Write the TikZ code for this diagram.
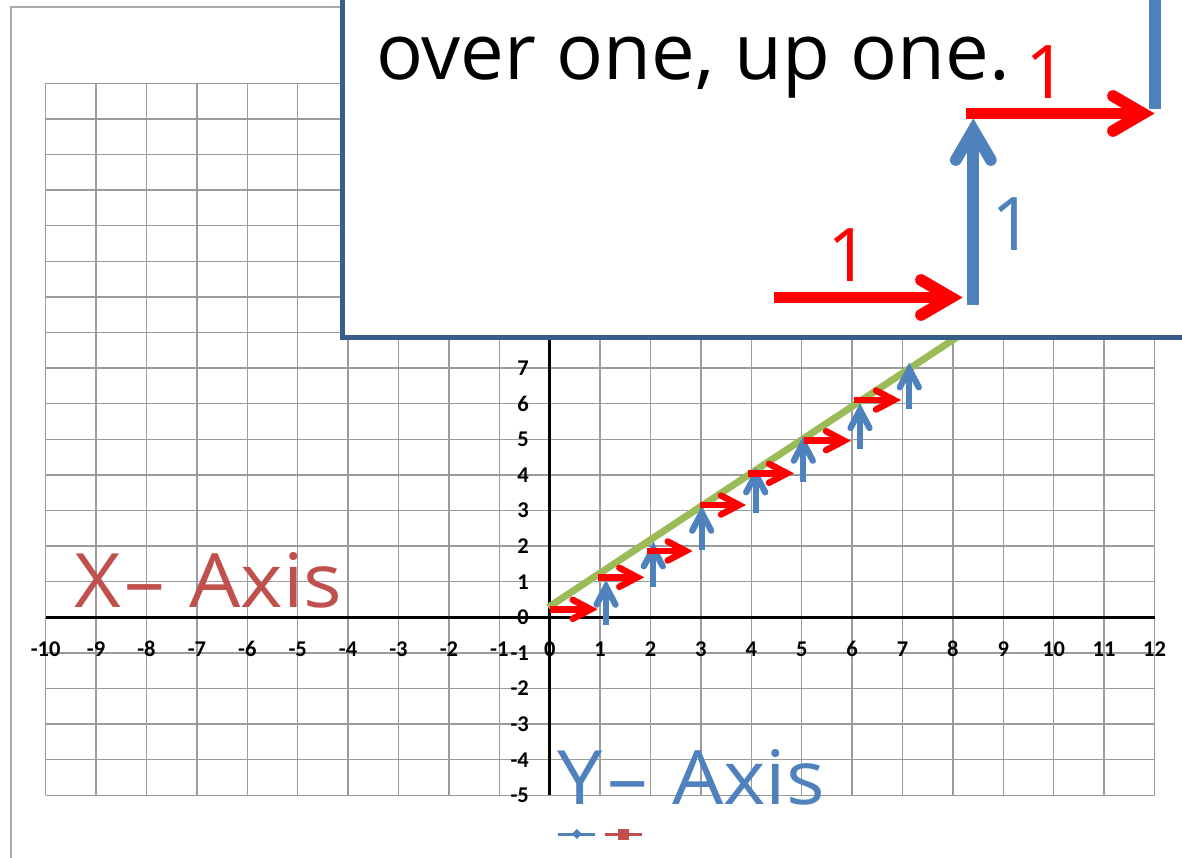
\documentclass[tikz,border=0pt]{standalone}
\usepackage{fontspec}
\setmainfont{Open Sans}
\newfontfamily\axisfont[FakeStretch=1.08]{Open Sans}
\newfontfamily\tickfont{Carlito}
\definecolor{gridc}{RGB}{155,155,155}
\definecolor{bordc}{RGB}{170,170,170}
\definecolor{boxc}{RGB}{56,93,138}
\definecolor{blueA}{RGB}{79,129,189}
\definecolor{redA}{RGB}{255,0,0}
\definecolor{greenA}{RGB}{155,187,89}
\definecolor{xred}{RGB}{192,80,77}
\tikzset{
  gridline/.style={gridc, line width=1.4},
  axisline/.style={black, line width=2.6},
  ticklbl/.style={font=\tickfont\bfseries\fontsize{22.5}{22.5}\selectfont, inner sep=0},
  smallred/.style={redA, line width=6.5},
  smallblue/.style={blueA, line width=6.3},
  bigred/.style={redA, line width=11.7},
  bigblue/.style={blueA, line width=11.7},
  headcap/.style={line cap=round},
  bigtxt/.style={inner sep=0, font=\axisfont\fontsize{75}{75}\selectfont},
  onelbl/.style={inner sep=0, anchor=base, font=\fontsize{74}{74}\selectfont}
}
\begin{document}
\begin{tikzpicture}[x=1pt,y=-1pt]
\useasboundingbox (0,0) rectangle (1182,857);
\clip (0,0) rectangle (1182,857);
\fill[white] (0,0) rectangle (1182,857);
% outer chart border
\draw[bordc, line width=1.3] (11,7) rectangle (1260,960);
% grid
\foreach \i in {0,...,22} \draw[gridline] ({45.7+50.4*\i},83.3) -- ({45.7+50.4*\i},795.3);
\foreach \j in {0,...,20} \draw[gridline] (45.7,{83.3+35.6*\j}) -- (1154.5,{83.3+35.6*\j});
% axes
\draw[axisline] (45.7,617.3) -- (1154.5,617.3);
\draw[axisline] (549.7,83.3) -- (549.7,795.3);
% tick labels
\foreach \u in {-10,...,12} \node[ticklbl] (xl\u) at ({549.7+50.4*\u},649) {\u};
\foreach \v in {-5,...,7} \node[ticklbl, anchor=east] (yl\v) at (529,{617.3-35.6*\v}) {\v};
% green line
\draw[greenA, line width=7] (548.3,607.3) -- (1000,308.7);
% small blue arrows
\foreach \x/\b/\t in {606/625/580.7, 653.3/587.3/542.3, 701.7/550/506.7, 755.7/513.3/468.3, 803.3/481.7/436.7, 860/449.3/404, 909.3/409/363.3} {
  \draw[smallblue] (\x,\b) -- (\x,\t+6);
  \draw[smallblue, headcap] (\x-9.5,\t+24) -- (\x,\t+6) -- (\x+9.5,\t+24);
}
% small red arrows
\foreach \s/\t/\y in {550/596.7/609.3, 597.7/643.3/577.3, 646.7/691.7/551, 700/745/505, 748/793/473.3, 804/850/440.7, 854/900/400} {
  \draw[smallred] (\s,\y) -- (\t-6,\y);
  \draw[smallred, headcap] (\t-24,\y-9.5) -- (\t-6,\y) -- (\t-24,\y+9.5);
}
% text box
\draw[boxc, line width=5, fill=white] (342,-20) rectangle (1260,337.5);
\node[inner sep=0, anchor=base west, font=\fontsize{78}{92}\selectfont] (txt) at (376,79) {over one, up one.};
% big arrows
\draw[bigblue] (1155,-5) -- (1155,108.7);
\draw[bigred] (774,297.5) -- (951,297.5);
\draw[bigred, headcap] (921,280) -- (951,297.5) -- (921,315);
\draw[bigblue] (973.3,305) -- (973.3,130);
\draw[bigblue, headcap] (955.8,160) -- (973.3,130) -- (990.8,160);
\draw[bigred] (966,113.5) -- (1143,113.5);
\draw[bigred, headcap] (1113,96) -- (1143,113.5) -- (1113,131);
\node[onelbl, text=redA] (one1) at (1047,98.3) {1};
\node[onelbl, text=redA] (one2) at (849,281.7) {1};
\node[onelbl, text=blueA] (one3) at (1013,250) {1};
% axis titles
\node[bigtxt, anchor=base west, text=xred] (xtitle) at (74,607) {X\hspace{4pt}– \hspace{3pt}Axis};
\node[bigtxt, anchor=base west, text=blueA] (ytitle) at (557,804) {Y\hspace{5pt}– \hspace{3pt}Axis};
% legend
\draw[blueA, line width=3] (558.3,834) -- (595,834);
\fill[blueA] (576.8,829) -- (581.8,834) -- (576.8,839) -- (571.8,834) -- cycle;
\draw[xred, line width=3] (605,834) -- (641.7,834);
\fill[xred] (618,828.5) rectangle (628.5,839.5);
\end{tikzpicture}
\end{document}
